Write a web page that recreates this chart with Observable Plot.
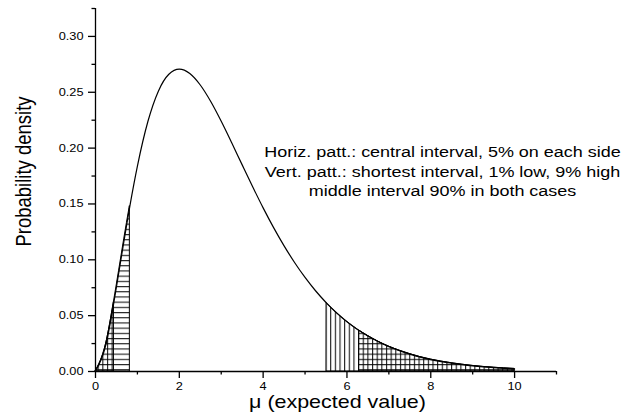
<!DOCTYPE html>
<html>
<head>
<meta charset="utf-8">
<script src="https://cdn.jsdelivr.net/npm/d3@7"></script>
<script src="https://cdn.jsdelivr.net/npm/@observablehq/plot@0.6"></script>
<style>
  html, body { margin: 0; padding: 0; background: #fff; }
  #chart svg { display: block; }
</style>
</head>
<body>
<div id="chart"></div>
<script>
// Posterior density of the Poisson mean μ, sampled along the curve
const mu = [0, 0.25, 0.44, 0.5, 0.75, 0.82, 1, 1.25, 1.5, 1.75, 2, 2.25, 2.5, 2.75, 3, 3.25,
  3.5, 3.75, 4, 4.25, 4.5, 4.75, 5, 5.25, 5.5, 5.52, 5.75, 6, 6.25, 6.3, 6.5, 6.75, 7,
  7.25, 7.5, 7.75, 8, 8.25, 8.5, 8.75, 9, 9.25, 9.5, 9.75, 10];
const density = [0, 0.0243, 0.0623, 0.0758, 0.1329, 0.1481, 0.1839, 0.2238, 0.2510, 0.2661,
  0.2707, 0.2668, 0.2565, 0.2417, 0.2240, 0.2048, 0.1850, 0.1654, 0.1465, 0.1288, 0.1125,
  0.0976, 0.0842, 0.0723, 0.0618, 0.0610, 0.0526, 0.0446, 0.0377, 0.0364, 0.0318, 0.0267,
  0.0223, 0.0187, 0.0156, 0.0129, 0.0107, 0.0089, 0.0074, 0.0061, 0.0050, 0.0041, 0.0034,
  0.0028, 0.0023];

// 90% intervals: central (5% in each tail) and shortest (1% low, 9% high)
const centralInterval = [0.82, 6.30];
const shortestInterval = [0.44, 5.52];

// Axis ticks
const xMajorTicks = [0, 2, 4, 6, 8, 10];
const xMinorTicks = [1, 3, 5, 7, 9, 11];
const yMajorTicks = [0, 0.05, 0.10, 0.15, 0.20, 0.25, 0.30];
const yMinorTicks = [0.025, 0.075, 0.125, 0.175, 0.225, 0.275, 0.325];

const xTitle = "μ (expected value)";
const yTitle = "Probability density";
const noteLines = [
  "Horiz. patt.: central interval, 5% on each side",
  "Vert. patt.: shortest interval, 1% low, 9% high",
  "middle interval 90% in both cases"
];

const curve = mu.map((m, i) => ({mu: m, p: density[i]}));
const tails = ([lo, hi]) => [curve.filter(d => d.mu <= lo), curve.filter(d => d.mu >= hi)];
const [centralLow, centralHigh] = tails(centralInterval);
const [shortLow, shortHigh] = tails(shortestInterval);

const font = "'Liberation Sans', Arial, Helvetica, sans-serif";
const axisStroke = 1.3;

const hatched = (data, pattern) => Plot.areaY(data, {
  x: "mu", y: "p", curve: "monotone-x",
  fill: `url(#${pattern})`, stroke: "#000", strokeWidth: 1
});

const chart = Plot.plot({
  width: 639,
  height: 414,
  marginLeft: 95,
  marginRight: 83,
  marginTop: 8,
  marginBottom: 43,
  style: {fontFamily: font, background: "#fff", color: "#000"},
  x: {domain: [0, 11], label: null},
  y: {domain: [0, 0.325], label: null},
  marks: [
    hatched(centralLow, "hatch-h"),
    hatched(centralHigh, "hatch-h"),
    hatched(shortLow, "hatch-v"),
    hatched(shortHigh, "hatch-v"),
    Plot.line(curve, {x: "mu", y: "p", curve: "monotone-x", stroke: "#000", strokeWidth: 1.2}),
    // axis lines
    Plot.ruleY([0], {stroke: "#000", strokeWidth: axisStroke}),
    Plot.ruleX([0], {stroke: "#000", strokeWidth: axisStroke}),
    // x axis
    Plot.axisX({ticks: xMajorTicks, tickSize: 7, tickPadding: 4, fontSize: 11,
      tickFormat: d => String(d), label: null, strokeWidth: axisStroke}),
    Plot.axisX({ticks: xMinorTicks, tickSize: 3.5, tickFormat: () => "", label: null,
      strokeWidth: axisStroke}),
    // y axis
    Plot.axisY({ticks: yMajorTicks, tickSize: 7, tickPadding: 5, fontSize: 11,
      tickFormat: d3.format(".2f"), label: null, strokeWidth: axisStroke}),
    Plot.axisY({ticks: yMinorTicks, tickSize: 3.5, tickFormat: () => "", label: null,
      strokeWidth: axisStroke}),
    // axis titles
    Plot.text([xTitle], {frameAnchor: "bottom", dx: 11.5, dy: 31, fontSize: 18.5,
      textAnchor: "middle", lineAnchor: "middle", fill: "#000"}),
    Plot.text([yTitle], {frameAnchor: "left", rotate: -90, dx: -71, dy: -18.5,
      fontSize: 18.5, textAnchor: "middle", lineAnchor: "middle", fill: "#000"}),
    // annotation
    Plot.text([noteLines.join("\n")], {x: 8.28, y: 0.18, fontSize: 15.5, lineHeight: 1.26,
      textAnchor: "middle", lineAnchor: "middle", fill: "#000"})
  ]
});

// Hatch patterns used by the tail areas
const defs = d3.select(chart).insert("defs", ":first-child");
defs.append("pattern")
  .attr("id", "hatch-h").attr("patternUnits", "userSpaceOnUse")
  .attr("width", 8).attr("height", 5.2)
  .append("line")
  .attr("x1", 0).attr("x2", 8).attr("y1", 0.6).attr("y2", 0.6)
  .attr("stroke", "#000").attr("stroke-width", 1);
defs.append("pattern")
  .attr("id", "hatch-v").attr("patternUnits", "userSpaceOnUse")
  .attr("width", 4.65).attr("height", 8)
  .append("line")
  .attr("x1", 0.6).attr("x2", 0.6).attr("y1", 0).attr("y2", 8)
  .attr("stroke", "#000").attr("stroke-width", 1);

// The typeface is set a little wide: stretch each label horizontally on screen
d3.select(chart).selectAll("text").each(function () {
  const t = this.getAttribute("transform") || "";
  const stretch = /rotate\(-90\)/.test(t) ? " scale(1,1.15)" : " scale(1.16,1)";
  this.setAttribute("transform", t + stretch);
});

document.getElementById("chart").append(chart);
</script>
</body>
</html>
